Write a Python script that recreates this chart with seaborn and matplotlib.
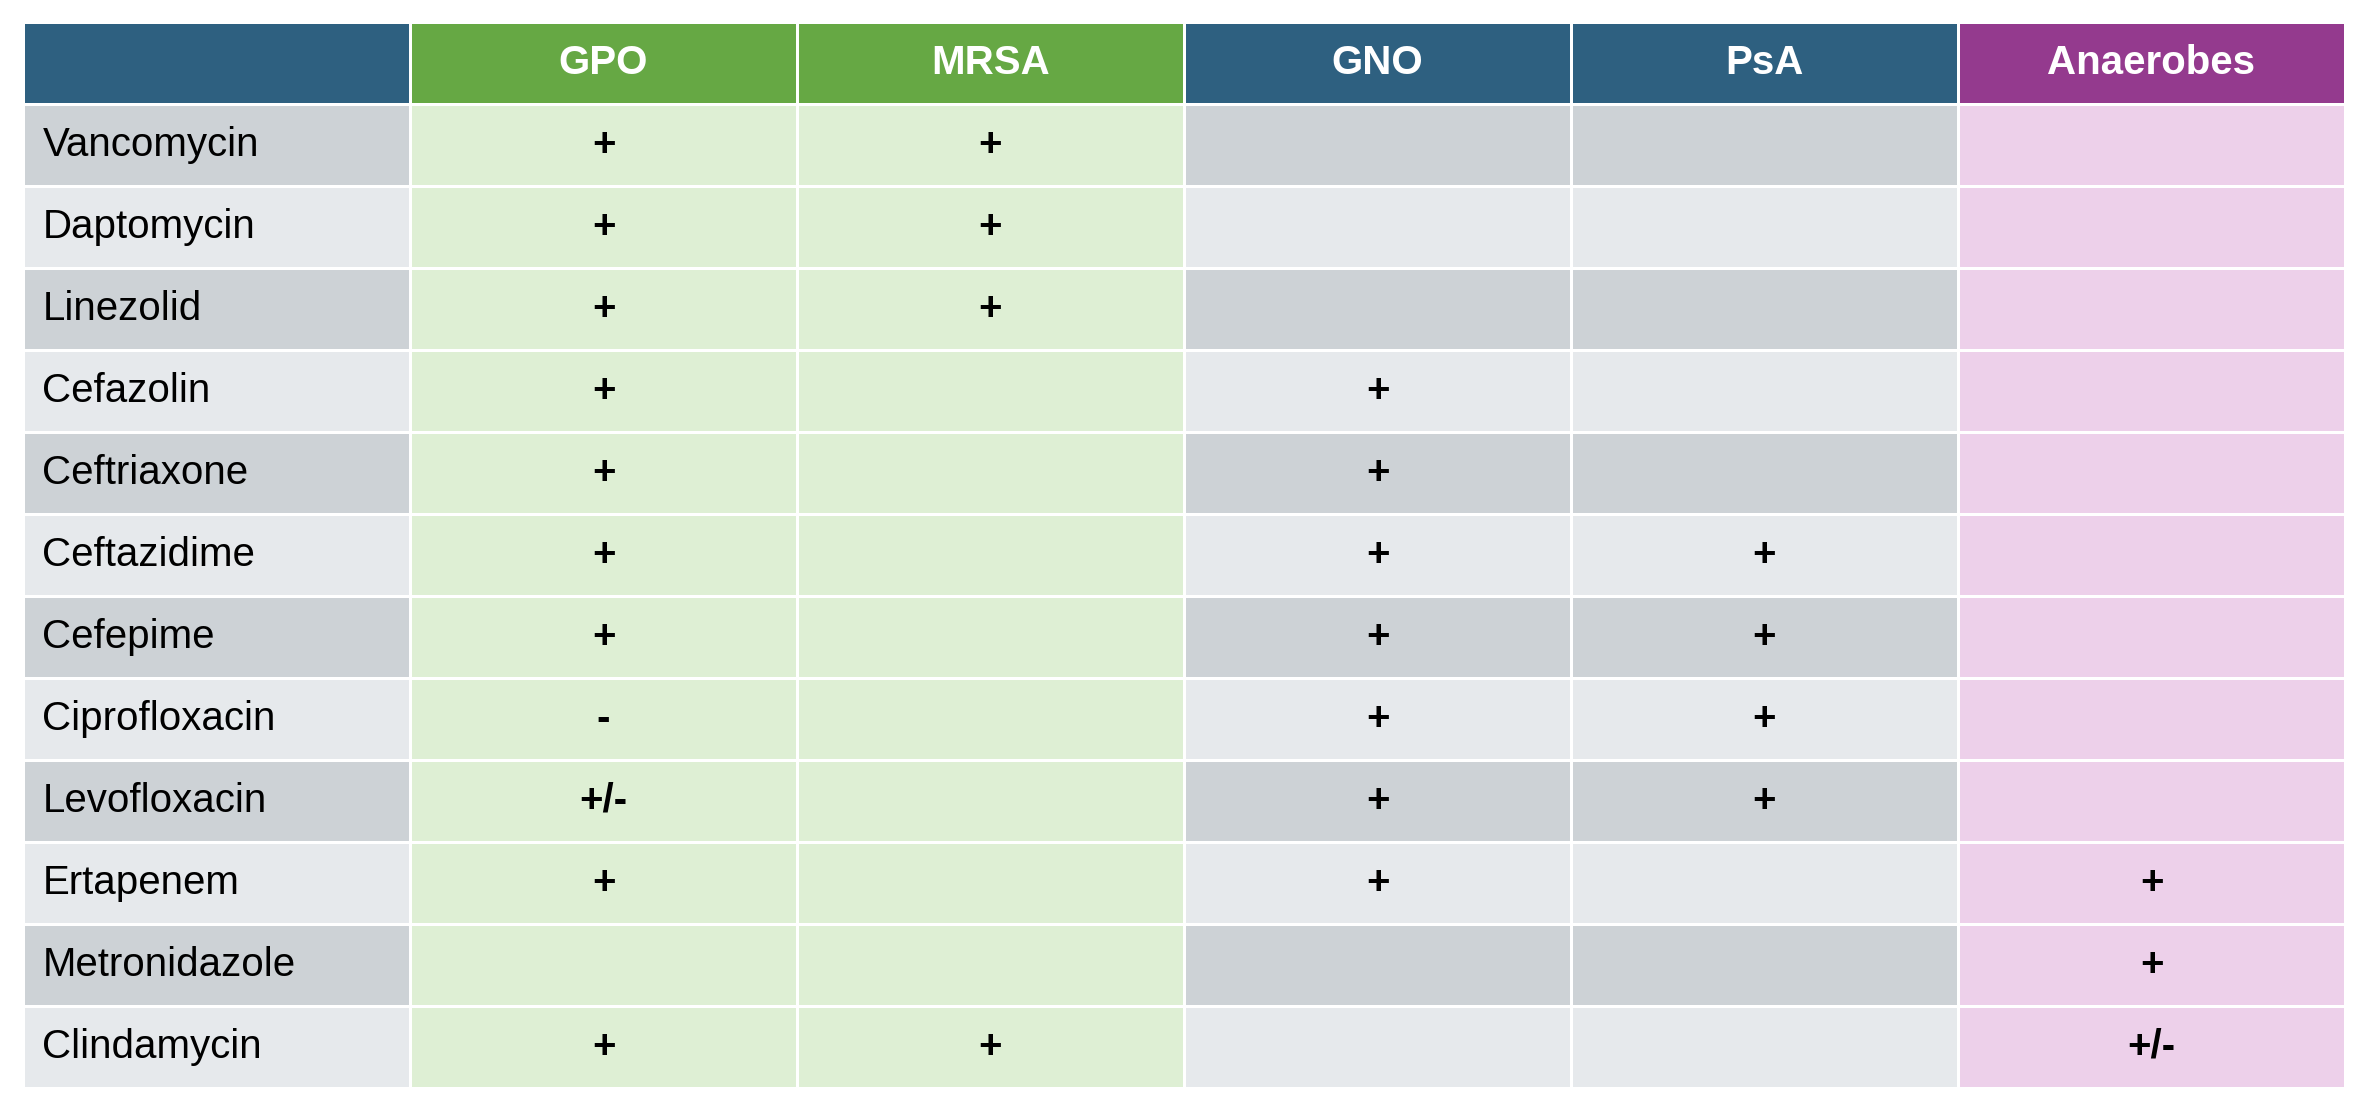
import matplotlib
matplotlib.use("Agg")
import matplotlib.pyplot as plt
import seaborn as sns
import numpy as np
from matplotlib.colors import ListedColormap

columns = ["GPO", "MRSA", "GNO", "PsA", "Anaerobes"]
drugs = ["Vancomycin", "Daptomycin", "Linezolid", "Cefazolin", "Ceftriaxone",
         "Ceftazidime", "Cefepime", "Ciprofloxacin", "Levofloxacin", "Ertapenem",
         "Metronidazole", "Clindamycin"]
gpo = ["+", "+", "+", "+", "+", "+", "+", "-", "+/-", "+", "", "+"]
mrsa = ["+", "+", "+", "", "", "", "", "", "", "", "", "+"]
gno = ["", "", "", "+", "+", "+", "+", "+", "+", "+", "", ""]
psa = ["", "", "", "", "", "+", "+", "+", "+", "", "", ""]
anaerobes = ["", "", "", "", "", "", "", "", "", "+", "+", "+/-"]

# colour codes
palette = ["#2E6080", "#66A844", "#943A8E", "#CDD2D6", "#E6E9EC", "#DEEFD4", "#EDD0EA"]
header_codes = [0, 1, 1, 0, 0, 2]
nrow, ncol = len(drugs) + 1, len(columns) + 1
codes = np.zeros((nrow, ncol), dtype=int)
codes[0] = header_codes
for i in range(len(drugs)):
    gray = 3 if i % 2 == 0 else 4
    codes[i + 1] = [gray, 5, 5, gray, gray, 6]

values = [gpo, mrsa, gno, psa, anaerobes]
fig = plt.figure(figsize=(23.7, 11.06), dpi=100)
ax = fig.add_axes([23 / 2370, 18 / 1106, 2322 / 2370, 1066 / 1106])
sns.heatmap(codes, cmap=ListedColormap(palette), vmin=-0.5, vmax=len(palette) - 0.5,
            cbar=False, linewidths=2, linecolor="white", ax=ax)
ax.set_xticks([]); ax.set_yticks([])
font = "Liberation Sans"
for j, c in enumerate(columns):
    ax.text(j + 1.5, 0.5, c, ha="center", va="center", color="white",
            fontsize=29, fontweight="bold", family=font)
for i, d in enumerate(drugs):
    ax.text(0.05, i + 1.5, d, ha="left", va="center", color="black",
            fontsize=29, family=font)
    for j, col in enumerate(values):
        if col[i]:
            ax.text(j + 1.5, i + 1.5, col[i], ha="center", va="center",
                    color="black", fontsize=29, fontweight="bold", family=font)
fig.savefig("out.png", dpi=100, facecolor="white")
